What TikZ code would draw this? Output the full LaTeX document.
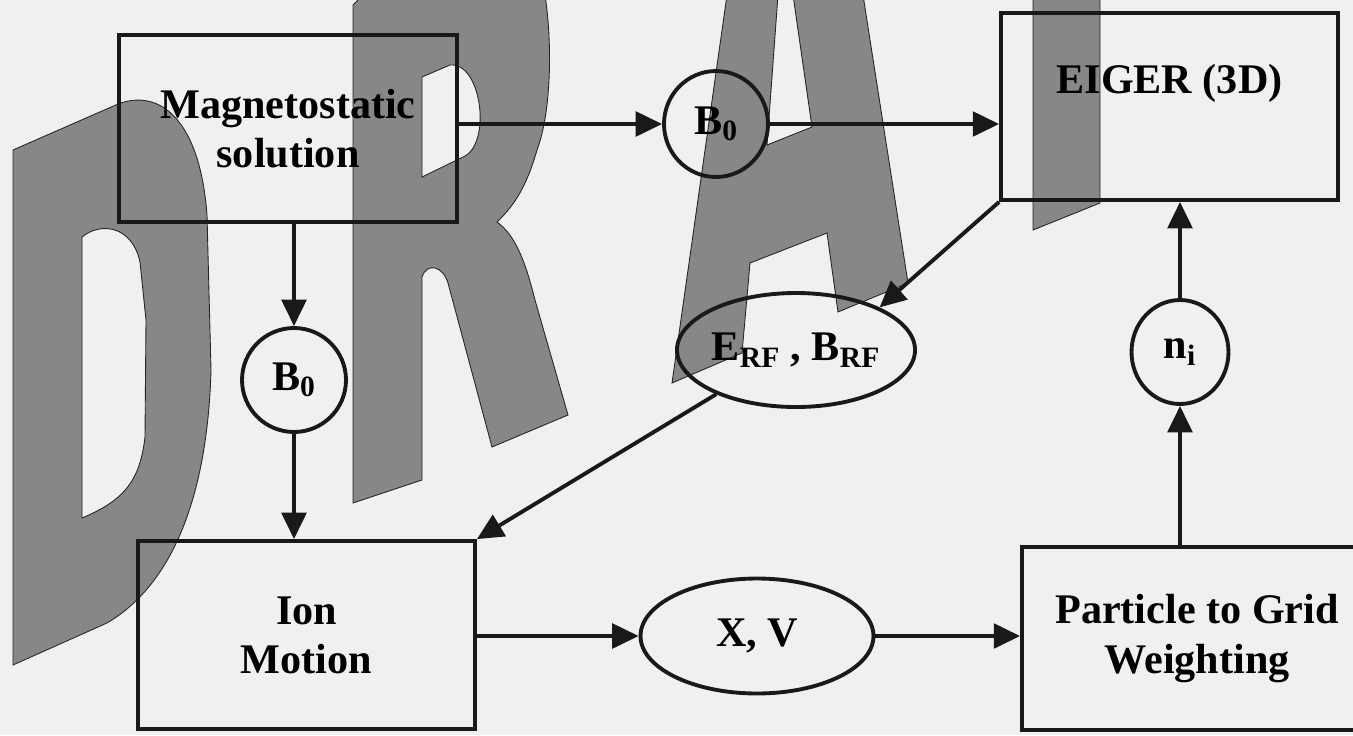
\documentclass[tikz,border=0pt]{standalone}
\usepackage{fontspec}
\setmainfont{Liberation Serif}
\usetikzlibrary{arrows.meta,shapes.geometric}

\begin{document}
\begin{tikzpicture}[x=0.02cm, y=-0.02cm, >={Triangle[length=15pt,width=14pt]},
    wmark/.style={fill=black!47, draw=black!85, line width=0.5pt},
    procBox/.style={draw=black!90, line width=2.2pt, rectangle, align=center, inner sep=0pt},
    fieldRound/.style={draw=black!90, line width=2.2pt, ellipse, inner sep=0pt, align=center},
    flow/.style={->, line width=2.2pt, draw=black!90},
    every node/.style={font=\bfseries\fontsize{24}{28}\selectfont}
]

    % Page
    \clip (0,0) rectangle (1353,735);
    \fill[black!6] (0,0) rectangle (1353,735);

    % Watermark: D
    \filldraw[wmark, even odd rule] (13,150) -- (118,104) .. controls (160,88) and (200,120) .. (207,215)
        -- (211,370) .. controls (208,480) and (180,580) .. (107,623) -- (13,665) -- cycle
        (82,237) .. controls (100,222) and (132,225) .. (140,262) -- (146,320) -- (145,437)
        .. controls (140,480) and (125,500) .. (82,518) -- cycle;

    % Watermark: R
    \filldraw[wmark, even odd rule] (353,5) -- (363,-5) -- (545,-5) .. controls (552,40) and (552,110) .. (537,150)
        .. controls (527,185) and (515,205) .. (497,222) .. controls (515,235) and (525,260) .. (535,300)
        -- (568,415) -- (492,447) -- (448,283) .. controls (443,266) and (427,262) .. (422,277)
        -- (422,480) -- (353,503) -- cycle
        (422,77) -- (450,65) .. controls (482,62) and (492,145) .. (463,157) -- (422,177) -- cycle;

    % Watermark: A
    \filldraw[wmark] (727,-5) -- (672,383) -- (742,353) -- (750,263) -- (827,233) -- (838,312)
        -- (908,283) -- (863,-5) -- (793,-5) -- (812,127) -- (767,145) -- (778,-5) -- cycle;

    % Watermark: F (stem only)
    \filldraw[wmark] (1033,-5) -- (1033,230) -- (1100,203) -- (1100,-5) -- cycle;

    % Blocks
    \node[procBox, minimum width=6.76cm, minimum height=3.74cm] (mag) at (288,128.5) {Magnetostatic\\solution};
    \node[procBox, minimum width=6.74cm, minimum height=3.74cm, text depth=1.1cm] (eiger) at (1169.5,106.5) {EIGER (3D)};
    \node[procBox, minimum width=6.74cm, minimum height=3.76cm] (ion) at (306.5,635) {Ion\\Motion};
    \node[procBox, minimum width=7.0cm, minimum height=3.66cm] (ptg) at (1197,638.5) {Particle to Grid\\Weighting};

    % Field quantities
    \node[fieldRound, minimum width=2.08cm, minimum height=2.12cm] (b0a) at (716,124) {B\textsubscript{0}};
    \node[fieldRound, minimum width=2.08cm, minimum height=2.08cm] (b0b) at (294,380) {B\textsubscript{0}};
    \node[fieldRound, minimum width=1.94cm, minimum height=2.08cm] (ni) at (1180,352) {n\textsubscript{i}};
    \node[fieldRound, minimum width=4.56cm, minimum height=2.28cm] (erf) at (796,350) {E\textsubscript{RF} , B\textsubscript{RF}};
    \node[fieldRound, minimum width=4.66cm, minimum height=2.3cm] (xv) at (757,636) {X, V};

    % Connections
    \draw[flow] (mag.east |- b0a.west) -- (b0a.west);
    \draw[flow] (b0a.east) -- (eiger.west |- b0a.east);
    \draw[flow] (b0b.north |- mag.south) -- (b0b.north);
    \draw[flow] (b0b.south) -- (b0b.south |- ion.north);
    \draw[flow] (eiger.south west) -- (erf.27);
    \draw[flow] (erf.209) -- (ion.north east);
    \draw[flow] (ion.east |- xv.west) -- (xv.west);
    \draw[flow] (xv.east) -- (xv.east -| ptg.west);
    \draw[flow] (ni.south |- ptg.north) -- (ni.south);
    \draw[flow] (ni.north) -- (ni.north |- eiger.south);

\end{tikzpicture}
\end{document}
